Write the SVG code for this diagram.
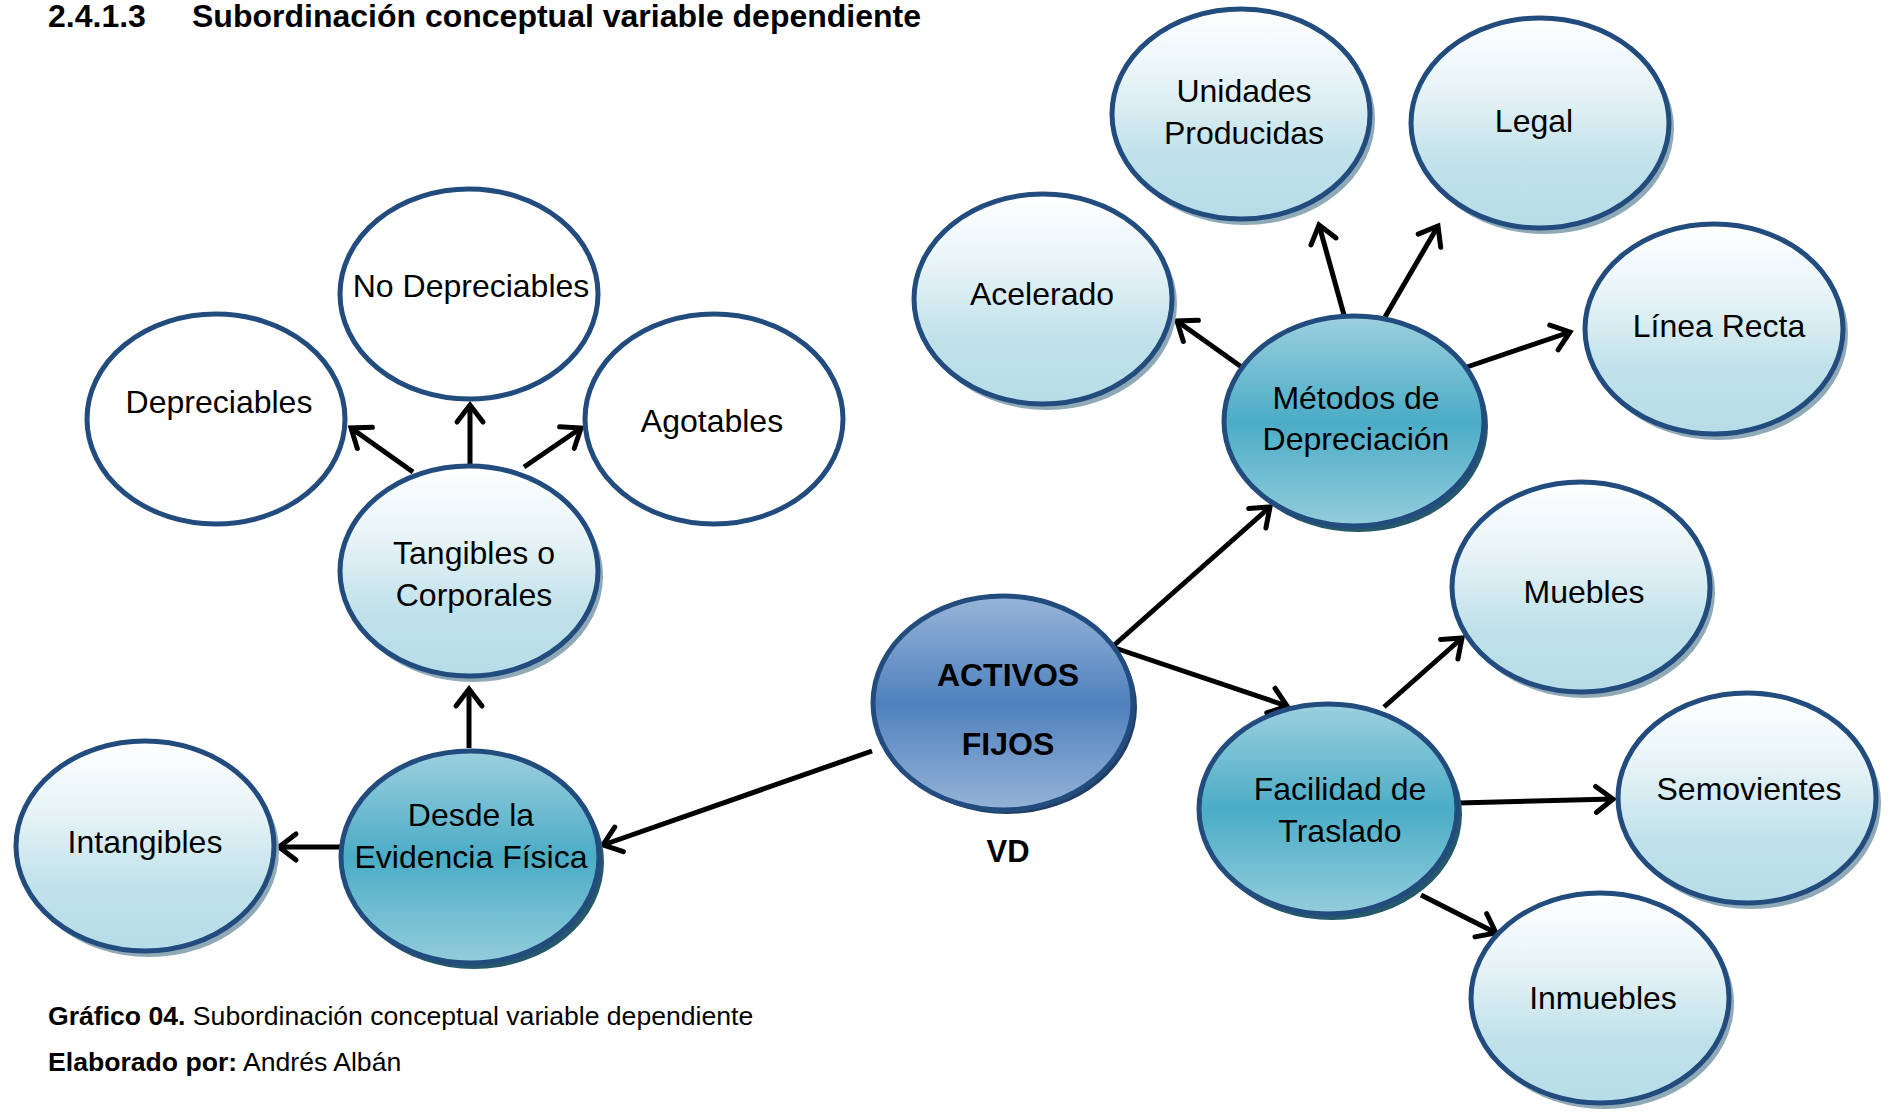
<svg xmlns="http://www.w3.org/2000/svg" width="1894" height="1112" viewBox="0 0 1894 1112">
  <defs>
    <linearGradient id="gLight" x1="0" y1="0" x2="0" y2="1">
      <stop offset="0" stop-color="#FFFFFF"/>
      <stop offset="0.35" stop-color="#E6F3F6"/>
      <stop offset="0.7" stop-color="#BFE1EA"/>
      <stop offset="1" stop-color="#B7DDE8"/>
    </linearGradient>
    <linearGradient id="gTeal" x1="0" y1="0" x2="0" y2="1">
      <stop offset="0" stop-color="#9CD0DF"/>
      <stop offset="0.5" stop-color="#4BACC6"/>
      <stop offset="1" stop-color="#93CDDC"/>
    </linearGradient>
    <linearGradient id="gBlue" x1="0" y1="0" x2="0" y2="1">
      <stop offset="0" stop-color="#98B5D8"/>
      <stop offset="0.5" stop-color="#4F81BD"/>
      <stop offset="1" stop-color="#95B3D7"/>
    </linearGradient>
    <marker id="arrow" markerUnits="userSpaceOnUse" markerWidth="40" markerHeight="40" refX="0" refY="0" viewBox="-24 -20 30 40" orient="auto" overflow="visible">
      <path d="M -17 -13 L 0 0 L -17 13" fill="none" stroke="#000" stroke-width="5" stroke-linecap="round" stroke-linejoin="miter"/>
    </marker>
  </defs>
  <style>
    .node ellipse.shape { stroke: #234C7E; stroke-width: 5; }
    .plain { fill: #FFFFFF; }
    .light { fill: url(#gLight); }
    .teal { fill: url(#gTeal); }
    .blue { fill: url(#gBlue); }
    .sh-light { fill: #8FA9B6; }
    .sh-dark { fill: #24586A; }
    .sh-blue { fill: #223F63; }
    text { font-family: "Liberation Sans", Arial, sans-serif; fill: #000; }
    .lbl { font-size: 32px; text-anchor: middle; }
    .bold { font-weight: bold; }
    .conn line { stroke: #000; stroke-width: 5; marker-end: url(#arrow); }
  </style>

  <!-- heading -->
  <g id="heading">
    <text x="48" y="27" font-size="32" font-weight="bold">2.4.1.3</text>
    <text x="192" y="27" font-size="32" font-weight="bold">Subordinación conceptual variable dependiente</text>
  </g>

  <!-- connectors -->
  <g id="connectors" class="conn">
    <line x1="872" y1="751" x2="603" y2="845"/>
    <line x1="469" y1="748" x2="469" y2="689"/>
    <line x1="345" y1="847" x2="279" y2="847"/>
    <line x1="413" y1="472" x2="351" y2="428"/>
    <line x1="470" y1="464" x2="470" y2="405"/>
    <line x1="524" y1="467" x2="581" y2="428"/>
    <line x1="1112" y1="647" x2="1270" y2="507"/>
    <line x1="1112" y1="647" x2="1287" y2="706"/>
    <line x1="1243" y1="368" x2="1177" y2="321"/>
    <line x1="1344" y1="315" x2="1319" y2="225"/>
    <line x1="1385" y1="317" x2="1438" y2="226"/>
    <line x1="1464" y1="368" x2="1570" y2="332"/>
    <line x1="1384" y1="707" x2="1462" y2="638"/>
    <line x1="1458" y1="803" x2="1613" y2="799"/>
    <line x1="1421" y1="895" x2="1496" y2="933"/>
  </g>

  <!-- left branch -->
  <g id="node-depreciables" class="node">
    <ellipse class="shape plain" cx="216" cy="419" rx="129" ry="105"/>
    <text class="lbl" x="219" y="413">Depreciables</text>
  </g>
  <g id="node-no-depreciables" class="node">
    <ellipse class="shape plain" cx="469" cy="294" rx="129" ry="105"/>
    <text class="lbl" x="471" y="297">No Depreciables</text>
  </g>
  <g id="node-agotables" class="node">
    <ellipse class="shape plain" cx="714" cy="419" rx="129" ry="105"/>
    <text class="lbl" x="712" y="432">Agotables</text>
  </g>
  <g id="node-tangibles" class="node">
    <ellipse class="sh-light" cx="473" cy="576" rx="130" ry="106"/>
    <ellipse class="shape light" cx="469" cy="571" rx="129" ry="105"/>
    <text class="lbl" x="474" y="564">Tangibles o</text>
    <text class="lbl" x="474" y="606">Corporales</text>
  </g>
  <g id="node-intangibles" class="node">
    <ellipse class="sh-light" cx="149" cy="851" rx="130" ry="106"/>
    <ellipse class="shape light" cx="145" cy="846" rx="129" ry="105"/>
    <text class="lbl" x="145" y="853">Intangibles</text>
  </g>
  <g id="node-evidencia" class="node">
    <ellipse class="sh-dark" cx="474" cy="862" rx="130" ry="107"/>
    <ellipse class="shape teal" cx="470" cy="857" rx="129" ry="106"/>
    <text class="lbl" x="471" y="826">Desde la</text>
    <text class="lbl" x="471" y="868">Evidencia Física</text>
  </g>

  <!-- root -->
  <g id="node-activos" class="node">
    <ellipse class="sh-blue" cx="1007" cy="707" rx="130" ry="107"/>
    <ellipse class="shape blue" cx="1003" cy="703" rx="130" ry="107"/>
    <text class="lbl bold" x="1008" y="686">ACTIVOS</text>
    <text class="lbl bold" x="1008" y="755">FIJOS</text>
  </g>
  <text id="vd-label" class="bold" x="1008" y="862" font-size="31" text-anchor="middle">VD</text>

  <!-- depreciation methods -->
  <g id="node-metodos" class="node">
    <ellipse class="sh-dark" cx="1358" cy="426" rx="130" ry="106"/>
    <ellipse class="shape teal" cx="1354" cy="421" rx="130" ry="105"/>
    <text class="lbl" x="1356" y="409">Métodos de</text>
    <text class="lbl" x="1356" y="450">Depreciación</text>
  </g>
  <g id="node-acelerado" class="node">
    <ellipse class="sh-light" cx="1047" cy="304" rx="130" ry="106"/>
    <ellipse class="shape light" cx="1043" cy="299" rx="129" ry="105"/>
    <text class="lbl" x="1042" y="305">Acelerado</text>
  </g>
  <g id="node-unidades" class="node">
    <ellipse class="sh-light" cx="1245" cy="119" rx="130" ry="106"/>
    <ellipse class="shape light" cx="1241" cy="114" rx="129" ry="105"/>
    <text class="lbl" x="1244" y="102">Unidades</text>
    <text class="lbl" x="1244" y="144">Producidas</text>
  </g>
  <g id="node-legal" class="node">
    <ellipse class="sh-light" cx="1544" cy="128" rx="130" ry="106"/>
    <ellipse class="shape light" cx="1540" cy="123" rx="129" ry="105"/>
    <text class="lbl" x="1534" y="132">Legal</text>
  </g>
  <g id="node-linea-recta" class="node">
    <ellipse class="sh-light" cx="1718" cy="334" rx="130" ry="106"/>
    <ellipse class="shape light" cx="1714" cy="329" rx="129" ry="105"/>
    <text class="lbl" x="1719" y="337">Línea Recta</text>
  </g>

  <!-- ease of transfer -->
  <g id="node-facilidad" class="node">
    <ellipse class="sh-dark" cx="1332" cy="814" rx="130" ry="106"/>
    <ellipse class="shape teal" cx="1328" cy="809" rx="129" ry="105"/>
    <text class="lbl" x="1340" y="800">Facilidad de</text>
    <text class="lbl" x="1340" y="842">Traslado</text>
  </g>
  <g id="node-muebles" class="node">
    <ellipse class="sh-light" cx="1585" cy="592" rx="130" ry="106"/>
    <ellipse class="shape light" cx="1581" cy="587" rx="129" ry="105"/>
    <text class="lbl" x="1584" y="603">Muebles</text>
  </g>
  <g id="node-semovientes" class="node">
    <ellipse class="sh-light" cx="1751" cy="803" rx="130" ry="106"/>
    <ellipse class="shape light" cx="1747" cy="798" rx="129" ry="105"/>
    <text class="lbl" x="1749" y="800">Semovientes</text>
  </g>
  <g id="node-inmuebles" class="node">
    <ellipse class="sh-light" cx="1604" cy="1003" rx="130" ry="106"/>
    <ellipse class="shape light" cx="1600" cy="998" rx="129" ry="105"/>
    <text class="lbl" x="1603" y="1009">Inmuebles</text>
  </g>

  <!-- caption -->
  <g id="caption" font-size="26.6">
    <text x="48" y="1025"><tspan font-weight="bold">Gráfico 04.</tspan> Subordinación conceptual variable dependiente</text>
    <text x="48" y="1071"><tspan font-weight="bold">Elaborado por:</tspan> Andrés Albán</text>
  </g>
</svg>
